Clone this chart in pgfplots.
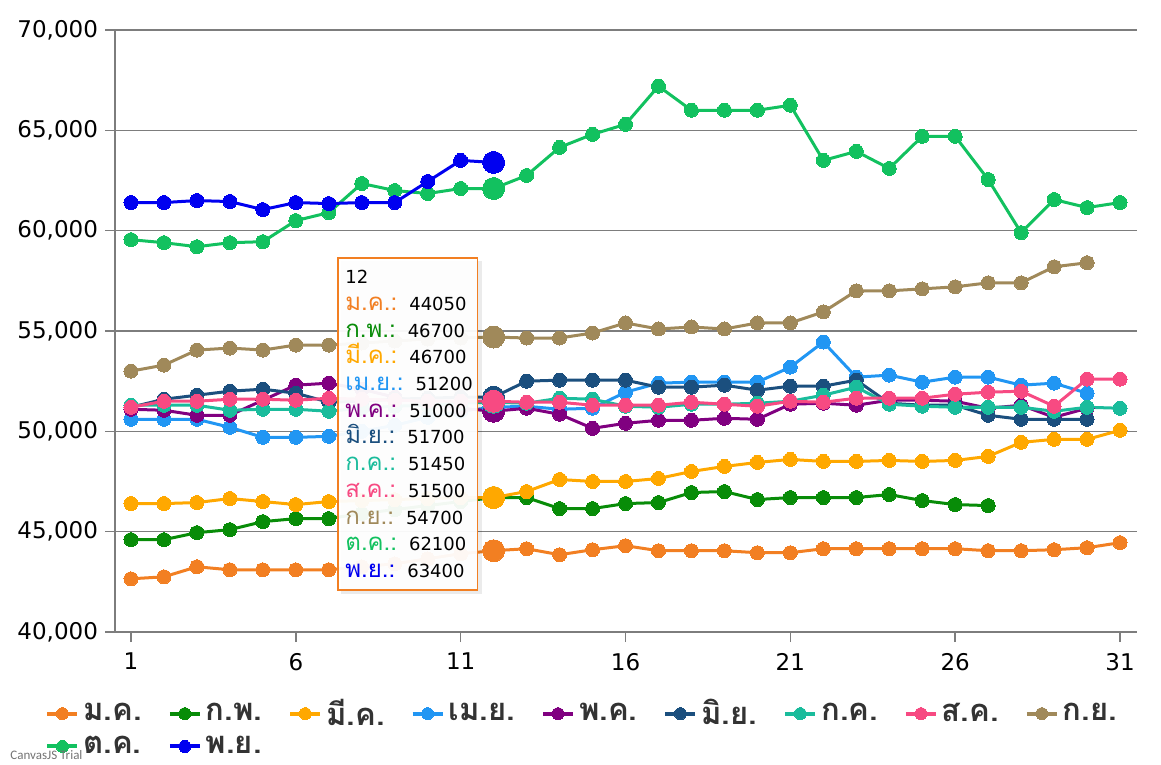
\documentclass[border=0pt]{standalone}
\usepackage{fontspec}
\setmainfont{DejaVu Sans}
\newfontfamily\thaifont[Script=Thai]{Loma}
\newfontfamily\trialfont{Carlito}
\usepackage{pgfplots}
\pgfplotsset{compat=1.18}
\definecolor{cJan}{RGB}{242,127,34}
\definecolor{cFeb}{RGB}{8,140,8}
\definecolor{cMar}{RGB}{255,168,0}
\definecolor{cApr}{RGB}{33,150,243}
\definecolor{cMay}{RGB}{128,0,128}
\definecolor{cJun}{RGB}{27,79,126}
\definecolor{cJul}{RGB}{26,188,156}
\definecolor{cAug}{RGB}{247,74,130}
\definecolor{cSep}{RGB}{160,137,90}
\definecolor{cOct}{RGB}{18,193,95}
\definecolor{cNov}{RGB}{0,0,240}
\definecolor{gridc}{RGB}{125,125,125}
\pgfplotsset{
  ser/.style={color=#1, line width=1.5pt, mark=*, mark size=3.5pt, mark options={solid, fill=#1, draw=#1, line width=0pt}},
  big/.style={color=#1, only marks, mark=*, mark size=5.5pt, mark options={fill=#1, draw=#1, line width=0pt}, forget plot},
}
\newcommand{\tl}[3]{\textcolor{#1}{\thaifont\fontsize{12}{13.35}\selectfont #2}\hspace{6pt}#3}
\begin{document}
\begin{tikzpicture}
\begin{axis}[
  at={(57.5pt,66.5pt)}, anchor=south west,
  scale only axis, width=511pt, height=301pt,
  xmin=0.515, xmax=31.515, ymin=40000, ymax=70000,
  xtick={1,6,11,16,21,26,31},
  ytick={40000,45000,50000,55000,60000,65000,70000},
  scaled y ticks=false,
  axis x line*=bottom, axis y line*=left,
  axis line style={draw=gridc, line width=0.7pt},
  ymajorgrids, grid style={draw=gridc, line width=0.7pt},
  tick align=outside, major tick length=5pt,
  tick style={draw=gridc, line width=0.7pt},
  /pgf/number format/assume math mode=true,
  yticklabel style={/pgf/number format/1000 sep={,}},
  xticklabel style={yshift=-2pt},
  ticklabel style={font=\fontsize{11.5}{13}\selectfont, text=black},
  legend columns=9,
  legend style={at={(-0.0685,-0.104)}, anchor=north west, draw=none, fill=none,
    font=\thaifont\bfseries\fontsize{15.5}{16}\selectfont, column sep=0pt, row sep=0pt, inner sep=0pt, text=black!80,
    /tikz/every even column/.append style={column sep=11pt}},
  legend cell align=left,
  legend image code/.code={\draw[mark repeat=2,mark phase=2,#1, line width=2pt, mark size=3pt] plot coordinates {(0pt,0pt) (7.5pt,0pt) (15pt,0pt)};},
]
\addplot[ser=cJan] coordinates {(1,42650)(2,42750)(3,43250)(4,43100)(5,43100)(6,43100)(7,43100)(8,43250)(9,43400)(10,43650)(11,43900)(12,44050)(13,44150)(14,43850)(15,44100)(16,44300)(17,44050)(18,44050)(19,44050)(20,43950)(21,43950)(22,44150)(23,44150)(24,44150)(25,44150)(26,44150)(27,44050)(28,44050)(29,44100)(30,44200)(31,44450)};
\addlegendentry{ม.ค.}
\addplot[ser=cFeb] coordinates {(1,44600)(2,44600)(3,44950)(4,45100)(5,45500)(6,45650)(7,45650)(8,45900)(9,46100)(10,46300)(11,46500)(12,46700)(13,46700)(14,46150)(15,46150)(16,46400)(17,46450)(18,46950)(19,47000)(20,46600)(21,46700)(22,46700)(23,46700)(24,46850)(25,46550)(26,46350)(27,46300)};
\addlegendentry{ก.พ.}
\addplot[ser=cMar] coordinates {(1,46400)(2,46400)(3,46450)(4,46650)(5,46500)(6,46350)(7,46500)(8,46550)(9,46600)(10,46650)(11,46700)(12,46700)(13,47000)(14,47600)(15,47500)(16,47500)(17,47650)(18,48000)(19,48250)(20,48450)(21,48600)(22,48500)(23,48500)(24,48550)(25,48500)(26,48550)(27,48750)(28,49450)(29,49600)(30,49600)(31,50050)};
\addlegendentry{มี.ค.}
\addplot[ser=cApr] coordinates {(1,50600)(2,50600)(3,50600)(4,50200)(5,49700)(6,49700)(7,49750)(8,50000)(9,50300)(10,50700)(11,51000)(12,51200)(13,51250)(14,51100)(15,51150)(16,51950)(17,52400)(18,52450)(19,52450)(20,52450)(21,53200)(22,54450)(23,52700)(24,52800)(25,52450)(26,52700)(27,52700)(28,52300)(29,52400)(30,51900)};
\addlegendentry{เม.ย.}
\addplot[ser=cMay] coordinates {(1,51100)(2,51050)(3,50800)(4,50800)(5,51550)(6,52300)(7,52400)(8,52100)(9,51700)(10,51400)(11,51150)(12,51000)(13,51150)(14,50850)(15,50150)(16,50400)(17,50550)(18,50550)(19,50650)(20,50600)(21,51350)(22,51400)(23,51300)(24,51550)(25,51550)(26,51500)(27,51150)(28,51300)(29,50700)(30,51150)};
\addlegendentry{พ.ค.}
\addplot[ser=cJun] coordinates {(1,51200)(2,51600)(3,51800)(4,52000)(5,52100)(6,51900)(7,51450)(8,51500)(9,51600)(10,51650)(11,51700)(12,51700)(13,52500)(14,52550)(15,52550)(16,52550)(17,52200)(18,52200)(19,52300)(20,52050)(21,52250)(22,52250)(23,52550)(24,51400)(25,51300)(26,51300)(27,50800)(28,50600)(29,50600)(30,50600)};
\addlegendentry{มิ.ย.}
\addplot[ser=cJul] coordinates {(1,51300)(2,51300)(3,51300)(4,51050)(5,51100)(6,51100)(7,51000)(8,51150)(9,51250)(10,51300)(11,51400)(12,51450)(13,51400)(14,51650)(15,51600)(16,51250)(17,51200)(18,51350)(19,51350)(20,51400)(21,51500)(22,51800)(23,52200)(24,51350)(25,51250)(26,51200)(27,51200)(28,51200)(29,51000)(30,51200)(31,51150)};
\addlegendentry{ก.ค.}
\addplot[ser=cAug] coordinates {(1,51200)(2,51500)(3,51500)(4,51600)(5,51600)(6,51550)(7,51650)(8,51600)(9,51550)(10,51500)(11,51500)(12,51500)(13,51450)(14,51450)(15,51300)(16,51300)(17,51300)(18,51450)(19,51350)(20,51250)(21,51500)(22,51450)(23,51650)(24,51650)(25,51650)(26,51850)(27,51950)(28,52000)(29,51250)(30,52600)(31,52600)};
\addlegendentry{ส.ค.}
\addplot[ser=cSep] coordinates {(1,53000)(2,53300)(3,54050)(4,54150)(5,54050)(6,54300)(7,54300)(8,54400)(9,54500)(10,54600)(11,54650)(12,54700)(13,54650)(14,54650)(15,54900)(16,55400)(17,55100)(18,55200)(19,55100)(20,55400)(21,55400)(22,55950)(23,57000)(24,57000)(25,57100)(26,57200)(27,57400)(28,57400)(29,58200)(30,58400)};
\addlegendentry{ก.ย.}
\addplot[ser=cOct] coordinates {(1,59550)(2,59400)(3,59200)(4,59400)(5,59450)(6,60500)(7,60900)(8,62350)(9,62000)(10,61850)(11,62100)(12,62100)(13,62750)(14,64150)(15,64800)(16,65300)(17,67200)(18,66000)(19,66000)(20,66000)(21,66250)(22,63500)(23,63950)(24,63100)(25,64700)(26,64700)(27,62550)(28,59900)(29,61550)(30,61150)(31,61400)};
\addlegendentry{ต.ค.}
\addplot[ser=cNov] coordinates {(1,61400)(2,61400)(3,61500)(4,61450)(5,61050)(6,61400)(7,61350)(8,61400)(9,61400)(10,62450)(11,63500)(12,63400)};
\addlegendentry{พ.ย.}
% highlighted points at day 12
\addplot[big=cJan] coordinates {(12,44050)};
\addplot[big=cFeb] coordinates {(12,46700)};
\addplot[big=cMar] coordinates {(12,46700)};
\addplot[big=cApr] coordinates {(12,51200)};
\addplot[big=cMay] coordinates {(12,51000)};
\addplot[big=cJun] coordinates {(12,51700)};
\addplot[big=cJul] coordinates {(12,51450)};
\addplot[big=cAug] coordinates {(12,51500)};
\addplot[big=cSep] coordinates {(12,54700)};
\addplot[big=cOct] coordinates {(12,62100)};
\addplot[big=cNov] coordinates {(12,63400)};
\coordinate (ttA) at (axis cs:7.28,58640);
\coordinate (ttB) at (axis cs:11.52,42095);
\end{axis}
% tooltip (drawn on top of the markers)
\fill[black, opacity=0.08] ([shift={(1.5pt,-1.5pt)}]ttA) rectangle ([shift={(2pt,-2pt)}]ttB);
\draw[draw=cJan, line width=0.6pt, fill=white, fill opacity=0.95] (ttA) rectangle (ttB);
\node[anchor=north west, inner sep=0pt, align=left, font=\fontsize{9}{13.35}\selectfont]
  at ([shift={(3.5pt,-6pt)}]ttA) {%
  12\\
  \tl{cJan}{ม.ค.:}{44050}\\
  \tl{cFeb}{ก.พ.:}{46700}\\
  \tl{cMar}{มี.ค.:}{46700}\\
  \tl{cApr}{เม.ย.:}{51200}\\
  \tl{cMay}{พ.ค.:}{51000}\\
  \tl{cJun}{มิ.ย.:}{51700}\\
  \tl{cJul}{ก.ค.:}{51450}\\
  \tl{cAug}{ส.ค.:}{51500}\\
  \tl{cSep}{ก.ย.:}{54700}\\
  \tl{cOct}{ต.ค.:}{62100}\\
  \tl{cNov}{พ.ย.:}{63400}};
\node[anchor=base west, inner sep=0pt, font=\trialfont\fontsize{6.5}{7}\selectfont, text=black!55] at (5pt,2.5pt) {CanvasJS Trial};
\pgfresetboundingbox
\useasboundingbox (0,0) rectangle (580.5pt,382.5pt);
\end{tikzpicture}
\end{document}
